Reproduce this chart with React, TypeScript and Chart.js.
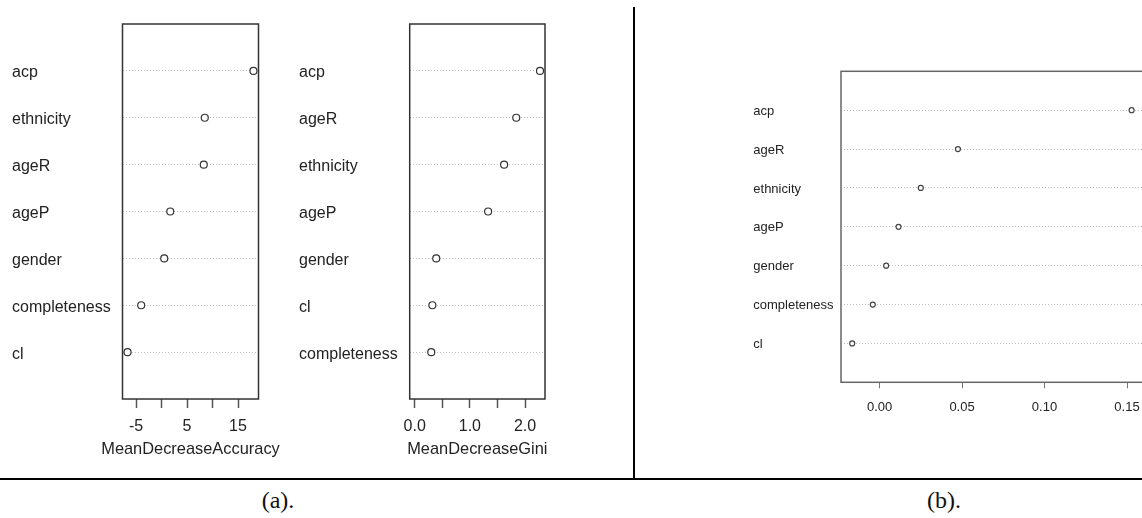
import React, { useEffect, useRef } from 'react';
import { Chart, registerables } from 'chart.js';

Chart.register(...registerables);

// ---- Data ----
const accCategories = ['acp', 'ethnicity', 'ageR', 'ageP', 'gender', 'completeness', 'cl'];
const accValues = [18.03, 8.48, 8.28, 1.71, 0.53, -3.99, -6.67];
const accTickValues = [-5, 0, 5, 10, 15];
const accTickLabels = ['-5', '', '5', '', '15'];

const giniCategories = ['acp', 'ageR', 'ethnicity', 'ageP', 'gender', 'cl', 'completeness'];
const giniValues = [2.27, 1.84, 1.62, 1.33, 0.39, 0.32, 0.3];
const giniTickValues = [0, 0.5, 1, 1.5, 2];
const giniTickLabels = ['0.0', '', '1.0', '', '2.0'];

const bCategories = ['acp', 'ageR', 'ethnicity', 'ageP', 'gender', 'completeness', 'cl'];
const bValues = [0.1528, 0.0475, 0.025, 0.0115, 0.004, -0.0041, -0.0166];
const bTickValues = [0, 0.05, 0.1, 0.15];
const bTickLabels = ['0.00', '0.05', '0.10', '0.15'];

const FONT = "'Liberation Sans', Arial, sans-serif";
const TEXT = '#222';

const boxPlugin = {
  id: 'box',
  beforeDatasetsDraw(chart: any, _args: any, opts: any) {
    const { ctx, chartArea } = chart;
    const { left, top, right, bottom } = chartArea;
    ctx.save();
    ctx.strokeStyle = opts.color;
    ctx.lineWidth = opts.width;
    ctx.strokeRect(left, top, right - left, bottom - top);
    ctx.restore();
  },
};

// Axis title drawn without Chart.js's width squeeze (R lets it overflow the box)
const axisTitlePlugin = {
  id: 'axisTitle',
  afterDraw(chart: any, _args: any, opts: any) {
    if (!opts || !opts.text) return;
    const { ctx, chartArea } = chart;
    ctx.save();
    ctx.fillStyle = opts.color;
    ctx.font = `${opts.size}px ${FONT}`;
    ctx.textAlign = 'center';
    ctx.textBaseline = 'middle';
    ctx.fillText(opts.text, (chartArea.left + chartArea.right) / 2, chartArea.bottom + opts.offset);
    ctx.restore();
  },
};

type DotProps = {
  categories: string[];
  values: number[];
  tickValues: number[];
  tickLabels: string[];
  xFloor?: number;
  title?: string;
  left: number;
  width: number;
  height: number;
  padLeft: number;
  padTop: number;
  padRight: number;
  yWidth: number;
  xHeight: number;
  fontSize: number;
  titleSize: number;
  labelOffset: number;
  tickLength: number;
  tickPadding: number;
  titleOffset: number;
  pointRadius: number;
  boxColor: string;
  boxWidth: number;
  gridColor: string;
  tickColor: string;
  tickWidth: number;
  pointColor: string;
};

function DotChart(p: DotProps) {
  const ref = useRef<HTMLCanvasElement | null>(null);

  useEffect(() => {
    if (!ref.current) return;
    const dataMin = Math.min(...p.values);
    const lo = p.xFloor !== undefined ? Math.min(p.xFloor, dataMin) : dataMin;
    const hi = Math.max(...p.values);
    const ext = 0.04 * (hi - lo);
    const n = p.categories.length;

    const chart = new Chart(ref.current, {
      type: 'scatter',
      data: {
        datasets: [
          {
            data: p.values.map((v, i) => ({ x: v, y: i + 1 })),
            pointRadius: p.pointRadius,
            pointHoverRadius: p.pointRadius,
            pointBorderColor: p.pointColor,
            pointBackgroundColor: '#fff',
            pointBorderWidth: 1.2,
            clip: false as any,
          },
        ],
      },
      options: {
        animation: false,
        responsive: false,
        devicePixelRatio: 1,
        events: [],
        layout: {
          padding: { left: p.padLeft, top: p.padTop, right: p.padRight, bottom: 0 },
        },
        plugins: {
          legend: { display: false },
          tooltip: { enabled: false },
          box: { color: p.boxColor, width: p.boxWidth },
          axisTitle: { text: p.title || '', color: TEXT, size: p.titleSize, offset: p.titleOffset },
        } as any,
        scales: {
          x: {
            type: 'linear',
            position: 'bottom',
            min: lo - ext,
            max: hi + ext,
            bounds: 'data',
            afterBuildTicks: (axis: any) => {
              axis.ticks = p.tickValues.map((v) => ({ value: v }));
            },
            afterFit: (axis: any) => {
              axis.height = p.xHeight;
            },
            ticks: {
              autoSkip: false,
              maxRotation: 0,
              padding: p.tickPadding,
              color: TEXT,
              font: { family: FONT, size: p.fontSize },
              callback: (_v: any, i: number) => p.tickLabels[i],
            },
            grid: {
              drawOnChartArea: false,
              drawTicks: true,
              tickLength: p.tickLength,
              tickColor: p.tickColor,
              tickWidth: p.tickWidth,
              color: p.tickColor,
            },
            border: { display: false },
          },
          y: {
            type: 'linear',
            min: 0,
            max: n + 1,
            reverse: true,
            bounds: 'data',
            afterBuildTicks: (axis: any) => {
              axis.ticks = p.categories.map((_c, i) => ({ value: i + 1 }));
            },
            afterFit: (axis: any) => {
              axis.width = p.yWidth;
            },
            ticks: {
              autoSkip: false,
              crossAlign: 'far',
              labelOffset: p.labelOffset,
              color: TEXT,
              font: { family: FONT, size: p.fontSize },
              callback: (_v: any, i: number) => p.categories[i],
            },
            grid: {
              drawTicks: false,
              color: p.gridColor,
              lineWidth: 1,
            },
            border: { display: false, dash: [1, 2] },
          },
        },
      } as any,
      plugins: [boxPlugin, axisTitlePlugin],
    });
    return () => chart.destroy();
  }, []);

  return (
    <canvas
      ref={ref}
      width={p.width}
      height={p.height}
      style={{ position: 'absolute', left: p.left, top: 0, width: p.width, height: p.height }}
    />
  );
}

export default function App() {
  useEffect(() => {
    document.body.style.margin = '0';
    document.body.style.background = '#fff';
  }, []);

  const labelStyle: React.CSSProperties = {
    position: 'absolute',
    top: 488,
    width: 120,
    textAlign: 'center',
    fontFamily: "'Liberation Serif', 'Times New Roman', serif",
    fontSize: 24,
    lineHeight: '24px',
    color: '#111',
  };

  return (
    <div
      style={{
        position: 'absolute',
        left: 0,
        top: 0,
        width: 1142,
        height: 518,
        overflow: 'hidden',
        background: '#fff',
      }}
    >
      <DotChart
        categories={accCategories}
        values={accValues}
        tickValues={accTickValues}
        tickLabels={accTickLabels}
        title="MeanDecreaseAccuracy"
        left={0}
        width={290}
        height={470}
        padLeft={12}
        padTop={24}
        padRight={31.5}
        yWidth={110.5}
        xHeight={71}
        fontSize={16}
        titleSize={16.4}
        labelOffset={2}
        tickLength={9}
        tickPadding={8.5}
        titleOffset={50}
        pointRadius={3.5}
        boxColor="#333"
        boxWidth={1.5}
        gridColor="#c0c0c0"
        tickColor="#555"
        tickWidth={1.5}
        pointColor="#333"
      />
      <DotChart
        categories={giniCategories}
        values={giniValues}
        tickValues={giniTickValues}
        tickLabels={giniTickLabels}
        xFloor={0}
        title="MeanDecreaseGini"
        left={290}
        width={330}
        height={470}
        padLeft={9}
        padTop={24}
        padRight={75}
        yWidth={110.7}
        xHeight={71}
        fontSize={16}
        titleSize={16.4}
        labelOffset={2}
        tickLength={9}
        tickPadding={8.5}
        titleOffset={50}
        pointRadius={3.5}
        boxColor="#333"
        boxWidth={1.5}
        gridColor="#c0c0c0"
        tickColor="#555"
        tickWidth={1.5}
        pointColor="#333"
      />
      <DotChart
        categories={bCategories}
        values={bValues}
        tickValues={bTickValues}
        tickLabels={bTickLabels}
        left={640}
        width={520}
        height={470}
        padLeft={113.3}
        padTop={71.3}
        padRight={17.2}
        yWidth={87.7}
        xHeight={87.7}
        fontSize={13}
        titleSize={13}
        labelOffset={1}
        tickLength={6}
        tickPadding={11.5}
        titleOffset={0}
        pointRadius={2.5}
        boxColor="#666"
        boxWidth={1.5}
        gridColor="#bdbdbd"
        tickColor="#777"
        tickWidth={1}
        pointColor="#444"
      />
      <div style={{ position: 'absolute', left: 633, top: 7, width: 2, height: 472, background: '#000' }} />
      <div style={{ position: 'absolute', left: 0, top: 478, width: 1142, height: 2, background: '#000' }} />
      <div style={{ ...labelStyle, left: 218 }}>(a).</div>
      <div style={{ ...labelStyle, left: 884 }}>(b).</div>
    </div>
  );
}
